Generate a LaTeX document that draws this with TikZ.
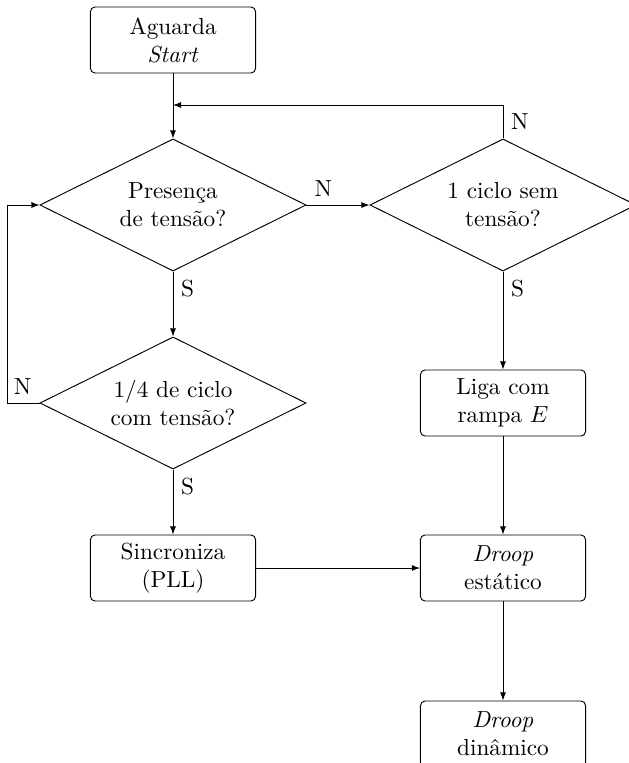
\documentclass[tikz,border=0pt]{standalone}
\usetikzlibrary{shapes.geometric,arrows.meta}
\begin{document}
\begin{tikzpicture}[x=0.43pt,y=-0.43pt,
  proc/.style={draw, rounded corners=2pt, align=center, minimum width=71pt, minimum height=28.4pt, inner sep=2pt},
  dec/.style={draw, diamond, aspect=2, align=center, minimum width=114.4pt, minimum height=56.8pt, inner sep=0.5pt},
  arr/.style={-{Latex[length=3.5pt,width=2.6pt]}},
  lbl/.style={inner sep=3.3pt}]
\clip (0,0) rectangle (629,763);

% process boxes
\node[proc] (wait)  at (173,40)  {Aguarda\\\textit{Start}};
\node[proc] (sync)  at (173,568) {Sincroniza\\(PLL)};
\node[proc] (ramp)  at (503,403) {Liga com\\rampa $E$};
\node[proc] (stat)  at (503,568) {\textit{Droop}\\estático};
\node[proc] (dyn)   at (503,734) {\textit{Droop}\\dinâmico};

% decisions
\node[dec] (volt)   at (173,205) {Presença\\de tensão?};
\node[dec] (quart)  at (173,403) {1/4 de ciclo\\com tensão?};
\node[dec] (cycle)  at (503,205) {1 ciclo sem\\tensão?};

\coordinate (join) at (173,105);

% connectors
\draw[arr] (wait) -- (volt);
\draw[arr] (volt) -- node[pos=0, lbl, below right] {S} (quart);
\draw[arr] (quart) -- node[pos=0, lbl, below right] {S} (sync);
\draw[arr] (volt.east) -- node[pos=0, lbl, above right] {N} (cycle.west);
\draw[arr] (cycle.north) |- node[pos=0.25, lbl, right] {N} (join);
\draw[arr] (cycle) -- node[pos=0, lbl, below right] {S} (ramp);
\draw[arr] (quart.west) node[lbl, above left] {N} -- ++(-32,0) |- (volt.west);
\draw[arr] (sync) -- (stat);
\draw[arr] (ramp) -- (stat);
\draw[arr] (stat) -- (dyn);
\end{tikzpicture}
\end{document}
